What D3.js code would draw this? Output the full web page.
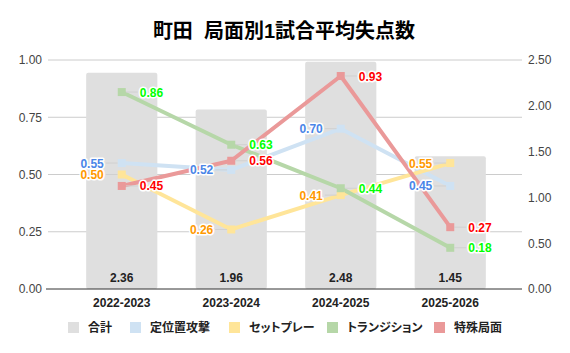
<!DOCTYPE html>
<html lang="ja">
<head>
<meta charset="utf-8">
<title>町田 局面別1試合平均失点数</title>
<style>
    body { margin: 0; background: #fff; }
    svg { font-family: "Liberation Sans", Arial, "Noto Sans CJK JP", sans-serif; }
    .tick text { fill: #444; font-size: 12px; }
    .legend text { font-feature-settings: "palt" 1; }
</style>
</head>
<body>
<script src="https://cdn.jsdelivr.net/npm/d3@7/dist/d3.min.js"></script>
<script>
    // data
    const seasons = ["2022-2023", "2023-2024", "2024-2025", "2025-2026"];
    const totals = [2.36, 1.96, 2.48, 1.45];
    const setPosition = [0.55, 0.52, 0.70, 0.45];   // 定位置攻撃
    const setPiece = [0.50, 0.26, 0.41, 0.55];      // セットプレー
    const transition = [0.86, 0.63, 0.44, 0.18];    // トランジション
    const special = [0.45, 0.56, 0.93, 0.27];       // 特殊局面
    const leftTicks = [0, 0.25, 0.5, 0.75, 1];
    const rightTicks = [0, 0.5, 1, 1.5, 2, 2.5];

    const series = [
        {name: "定位置攻撃", values: setPosition, color: "#cfe2f3", label: "#4a86e8", side: "left"},
        {name: "セットプレー", values: setPiece, color: "#ffe599", label: "#ff9900", side: "left"},
        {name: "トランジション", values: transition, color: "#b6d7a8", label: "#00ff00", side: "right"},
        {name: "特殊局面", values: special, color: "#ea9999", label: "#ff0000", side: "right"}
    ];

    const width = 570, height = 353;
    const plotLeft = 48, plotRight = 522, plotTop = 60, plotBottom = 289;

    const svg = d3.select("body").append("svg")
        .attr("width", width)
        .attr("height", height);

    const x = d3.scaleBand().domain(seasons).range([67, 505]).paddingInner(0.35).paddingOuter(0.175);
    const yL = d3.scaleLinear().domain([0, 1]).range([plotBottom, plotTop]);
    const yR = d3.scaleLinear().domain([0, 2.5]).range([plotBottom, plotTop]);
    const cx = s => x(s) + x.bandwidth() / 2;

    // title
    svg.append("text")
        .attr("x", 284).attr("y", 38)
        .attr("text-anchor", "middle")
        .attr("font-size", 20).attr("font-weight", "bold").attr("fill", "#000")
        .attr("xml:space", "preserve")
        .text("町田  局面別1試合平均失点数");

    // gridlines
    svg.append("g").selectAll("line")
        .data(leftTicks.slice(1))
        .join("line")
        .attr("x1", plotLeft).attr("x2", plotRight)
        .attr("y1", d => yL(d)).attr("y2", d => yL(d))
        .attr("stroke", "#ccc").attr("stroke-width", 1);

    // axes
    const gL = svg.append("g").attr("transform", `translate(${plotLeft},0)`)
        .call(d3.axisLeft(yL).tickValues(leftTicks).tickFormat(d3.format(".2f")).tickSize(0).tickPadding(6));
    gL.select(".domain").remove();
    const gR = svg.append("g").attr("transform", `translate(${plotRight},0)`)
        .call(d3.axisRight(yR).tickValues(rightTicks).tickFormat(d3.format(".2f")).tickSize(0).tickPadding(6));
    gR.select(".domain").remove();
    svg.selectAll(".tick text").attr("font-family", "Liberation Sans, Arial, sans-serif");

    // bars
    svg.append("g").selectAll("rect")
        .data(totals)
        .join("rect")
        .attr("x", (d, i) => x(seasons[i]))
        .attr("y", d => yR(d))
        .attr("width", x.bandwidth())
        .attr("height", d => plotBottom - yR(d))
        .attr("rx", 2)
        .attr("fill", "#dfdfdf");

    svg.append("g").selectAll("text")
        .data(totals)
        .join("text")
        .attr("x", (d, i) => cx(seasons[i]))
        .attr("y", 282)
        .attr("text-anchor", "middle")
        .attr("font-size", 12).attr("font-weight", "bold").attr("fill", "#222")
        .text(d => d.toFixed(2));

    // baseline
    svg.append("line")
        .attr("x1", 46).attr("x2", plotRight)
        .attr("y1", plotBottom).attr("y2", plotBottom)
        .attr("stroke", "#333").attr("stroke-width", 1);

    // x labels
    svg.append("g").selectAll("text")
        .data(seasons)
        .join("text")
        .attr("x", d => cx(d))
        .attr("y", 307)
        .attr("text-anchor", "middle")
        .attr("font-size", 12).attr("font-weight", "bold").attr("fill", "#222")
        .text(d => d);

    // lines
    const line = d3.line().x((d, i) => cx(seasons[i])).y(d => yL(d));
    const gLines = svg.append("g");
    series.forEach(s => {
        gLines.append("path")
            .datum(s.values)
            .attr("d", line)
            .attr("fill", "none")
            .attr("stroke", s.color)
            .attr("stroke-width", 4)
            .attr("stroke-linejoin", "round");
    });

    // leader lines, markers and labels
    series.forEach(s => {
        const g = svg.append("g");
        const dir = s.side === "right" ? 1 : -1;
        g.selectAll("line")
            .data(s.values)
            .join("line")
            .attr("x1", (d, i) => cx(seasons[i]) + dir * 4)
            .attr("x2", (d, i) => cx(seasons[i]) + dir * 16)
            .attr("y1", d => yL(d)).attr("y2", d => yL(d))
            .attr("stroke", "#d0d0d0").attr("stroke-width", 1);
        g.selectAll("rect")
            .data(s.values)
            .join("rect")
            .attr("x", (d, i) => cx(seasons[i]) - 4)
            .attr("y", d => yL(d) - 4)
            .attr("width", 8).attr("height", 8)
            .attr("fill", s.color);
    });

    series.forEach(s => {
        const dir = s.side === "right" ? 1 : -1;
        const lbl = svg.append("g").selectAll("text")
            .data(s.values)
            .join("text")
            .attr("x", (d, i) => cx(seasons[i]) + dir * 18)
            .attr("y", d => yL(d) + 4.5)
            .attr("text-anchor", s.side === "right" ? "start" : "end")
            .attr("font-size", 12).attr("font-weight", "bold")
            .text(d => d.toFixed(2));
        lbl.clone(true).lower()
            .attr("stroke", "#fff").attr("stroke-width", 3).attr("stroke-linejoin", "round")
            .attr("fill", "#fff");
        lbl.attr("fill", s.label);
    });

    // legend
    const legendItems = [{name: "合計", color: "#dfdfdf"}].concat(series.map(s => ({name: s.name, color: s.color})));
    const legendX = [68, 130, 229, 327, 434];
    const leg = svg.append("g").attr("class", "legend").selectAll("g")
        .data(legendItems)
        .join("g")
        .attr("transform", (d, i) => `translate(${legendX[i]},327.5)`);
    leg.append("rect")
        .attr("x", 0).attr("y", -5.5)
        .attr("width", 11).attr("height", 11)
        .attr("fill", d => d.color);
    leg.append("text")
        .attr("x", 20).attr("y", 4.5)
        .attr("font-size", 12).attr("font-weight", "bold").attr("fill", "#222")
        .attr("font-family", "Noto Sans CJK JP, sans-serif")
        .text(d => d.name);
</script>
</body>
</html>
